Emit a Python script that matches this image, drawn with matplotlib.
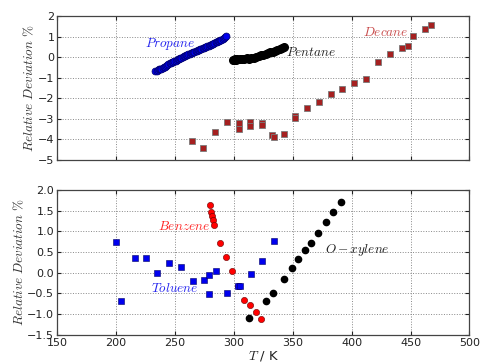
import matplotlib
matplotlib.use("Agg")
import matplotlib.pyplot as plt

plt.rcParams['mathtext.fontset'] = 'cm'
plt.rcParams['font.family'] = ['DejaVu Sans']

# ---- upper panel: alkanes ----
propane_T = [233.5, 234.5, 235.5, 236.5, 237.5, 238.5, 239.5, 240.5, 241.5, 242.5,
             243.5, 244.5, 245.5, 246.5, 247.5, 248.5, 249.5, 250.5, 251.5, 252.5,
             253.5, 254.5, 255.5, 256.5, 257.5, 258.5, 259.5, 260.5, 261.5, 262.5,
             263.5, 264.5, 265.5, 266.5, 267.5, 268.5, 269.5, 270.5, 271.5, 272.5,
             273.5, 274.5, 275.5, 276.5, 277.5, 278.5, 279.5, 280.5, 281.5, 282.5,
             283.5, 284.5, 285.5, 286.5, 287.5, 288.5, 289.5, 290.5, 291.5, 292.5,
             293.5]
propane_dev = [-0.68, -0.67, -0.64, -0.60, -0.59, -0.56, -0.52, -0.50, -0.46, -0.42,
               -0.38, -0.33, -0.30, -0.27, -0.25, -0.23, -0.21, -0.18, -0.14, -0.11,
               -0.08, -0.05, -0.02, 0.01, 0.04, 0.06, 0.09, 0.11, 0.14, 0.16,
               0.19, 0.21, 0.24, 0.27, 0.29, 0.31, 0.34, 0.36, 0.39, 0.41,
               0.44, 0.46, 0.48, 0.51, 0.53, 0.56, 0.58, 0.61, 0.63, 0.66,
               0.68, 0.71, 0.73, 0.76, 0.79, 0.82, 0.85, 0.89, 0.93, 0.97,
               1.01]

pentane_T = [299, 300, 301, 302, 303, 305, 307, 309, 311, 313, 315, 317, 319, 321,
             323, 325, 327, 329, 331, 333, 335, 337, 339, 341, 343]
pentane_dev = [-0.12, -0.15, -0.10, -0.12, -0.10, -0.08, -0.10, -0.07, -0.05, -0.07,
               -0.03, -0.02, 0.02, 0.03, 0.08, 0.10, 0.15, 0.18, 0.23, 0.27,
               0.32, 0.36, 0.41, 0.45, 0.48]

decane_T = [264.4, 274.0, 284.0, 294.0, 304.0, 304.0, 313.8, 313.8, 324.0, 324.0,
            332.8, 334.0, 342.4, 352.3, 352.3, 362.4, 372.6, 382.2, 392.0, 402.3,
            412.4, 422.3, 432.2, 442.4, 447.5, 452.3, 462.1, 467.2]
decane_dev = [-4.06, -4.43, -3.66, -3.14, -3.22, -3.51, -3.17, -3.35, -3.20, -3.30,
              -3.79, -3.90, -3.75, -2.85, -2.98, -2.49, -2.20, -1.81, -1.55, -1.26,
              -1.07, -0.26, 0.13, 0.45, 0.55, 1.03, 1.36, 1.54]

# ---- lower panel: aromatics ----
benzene_T = [279.8, 281.0, 281.8, 282.6, 283.5, 288.6, 293.6, 298.5, 303.3,
             308.4, 313.5, 318.6, 323.4]
benzene_dev = [1.64, 1.48, 1.38, 1.28, 1.15, 0.72, 0.38, 0.04, -0.33,
               -0.65, -0.77, -0.95, -1.11]

toluene_T = [199.8, 204.6, 216.4, 225.8, 235.1, 245.3, 255.2, 265.1, 274.7,
             279.2, 279.2, 284.6, 294.5, 303.6, 305.0, 314.6, 324.3, 334.4]
toluene_dev = [0.75, -0.67, 0.35, 0.36, 0.00, 0.23, 0.14, -0.19, -0.17,
               -0.06, -0.51, 0.04, -0.49, -0.33, -0.33, -0.04, 0.28, 0.76]

oxylene_T = [313.2, 327.1, 333.3, 342.3, 349.1, 354.7, 360.4, 365.5, 371.7,
             378.5, 384.5, 391.2]
oxylene_dev = [-1.10, -0.68, -0.49, -0.15, 0.12, 0.33, 0.54, 0.73, 0.96,
               1.22, 1.46, 1.70]

x_lim = (150, 500)
x_ticks = [150, 200, 250, 300, 350, 400, 450, 500]
top_yticks = [2, 1, 0, -1, -2, -3, -4, -5]
bot_yticks = [2.0, 1.5, 1.0, 0.5, 0.0, -0.5, -1.0, -1.5]

fig = plt.figure(figsize=(4.8, 3.62), dpi=100)
ax1 = fig.add_axes([0.119, 0.558, 0.859, 0.398])
ax2 = fig.add_axes([0.119, 0.075, 0.859, 0.400])

tick_fs = 8
label_fs = 9.5
name_fs = 9.5
ylabel = r'$Relative\ Deviation\ \%$'

for ax in (ax1, ax2):
    ax.set_xlim(*x_lim)
    ax.set_xticks(x_ticks)
    ax.grid(True, linestyle=':', color='#888888', linewidth=0.7)
    ax.set_axisbelow(True)
    ax.tick_params(direction='in', top=True, right=True, length=3,
                   labelsize=tick_fs, colors='#222222', pad=2)
    for sp in ax.spines.values():
        sp.set_color('#444444')
        sp.set_linewidth(0.9)
    ax.set_ylabel(ylabel, fontsize=label_fs, color='#333333', labelpad=1)

ax1.set_ylim(-5, 2)
ax1.set_yticks(top_yticks)
ax1.tick_params(labelbottom=False)

ax1.plot(propane_T, propane_dev, 'o', color='#0000ee', mec='#000066',
         mew=0.5, ms=5)
ax1.plot(pentane_T, pentane_dev, 'o', color='black', ms=5.5)
ax1.plot(decane_T, decane_dev, 's', color='#a52020', mec='#7a7a7a',
         mew=0.6, ms=4.5)
ax1.text(246, 0.65, r'$Propane$', color='#2222ee', fontsize=name_fs,
         ha='center', va='center')
ax1.text(365.5, 0.2, r'$Pentane$', color='#222222', fontsize=name_fs,
         ha='center', va='center')
ax1.text(429, 1.2, r'$Decane$', color='#c84a4a', fontsize=name_fs,
         ha='center', va='center')

ax2.set_ylim(-1.5, 2.0)
ax2.set_yticks(bot_yticks)
ax2.plot(benzene_T, benzene_dev, 'o', color='#ff0000', mec='#660000',
         mew=0.4, ms=4.5)
ax2.plot(toluene_T, toluene_dev, 's', color='#0000ee', mec='#000066',
         mew=0.4, ms=4.2)
ax2.plot(oxylene_T, oxylene_dev, 'o', color='black', ms=4.5)
ax2.text(257.8, 1.12, r'$Benzene$', color='#ff2020', fontsize=name_fs,
         ha='center', va='center')
ax2.text(249.7, -0.39, r'$Toluene$', color='#2222ee', fontsize=name_fs,
         ha='center', va='center')
ax2.text(405, 0.56, r'$O-xylene$', color='#222222', fontsize=name_fs,
         ha='center', va='center')
ax2.set_xlabel(r'$T$ / K', fontsize=label_fs, color='#222222', labelpad=1)

fig.savefig('out.png', dpi=100)
